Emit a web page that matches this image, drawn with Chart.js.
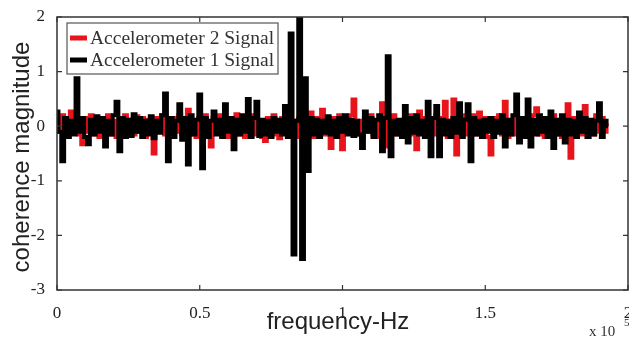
<!DOCTYPE html>
<html>
<head>
<meta charset="utf-8">
<script src="https://cdn.jsdelivr.net/npm/chart.js@4/dist/chart.umd.min.js"></script>
<style>
  html, body { margin: 0; padding: 0; background: #fff; }
  #wrap { width: 629px; height: 340px; position: relative; }
</style>
</head>
<body>
<div id="wrap"><canvas id="c" width="629" height="340"></canvas></div>
<script>
// ---- data ----
const freqStep = 0.01; // x 10^5 Hz between samples
const seriesNames = ['Accelerometer 2 Signal', 'Accelerometer 1 Signal'];
const xTickLabels = ['0', '0.5', '1', '1.5', '2'];
const yTickLabels = ['-3', '-2', '-1', '0', '1', '2'];

const accel1 = [
  0.27, -0.1, -0.64, 0.15, -0.2, 0.1, -0.15, 0.88, -0.1, 0.15,
  -0.2, -0.33, 0.12, -0.15, 0.18, -0.1, 0.15, -0.37, 0.1, -0.15,
  0.2, 0.45, -0.46, 0.15, -0.2, 0.12, -0.18, 0.22, -0.1, 0.15,
  -0.2, 0.1, -0.15, 0.18, -0.22, 0.1, -0.12, 0.2, 0.6, -0.64,
  0.15, -0.2, 0.1, 0.4, -0.25, 0.15, -0.7, 0.2, -0.15, 0.12,
  0.58, -0.77, 0.15, -0.2, 0.1, 0.27, -0.15, 0.12, -0.2, 0.4,
  -0.1, 0.15, -0.42, 0.12, -0.15, 0.2, -0.1, 0.5, -0.2, 0.15,
  0.45, -0.18, 0.12, -0.15, 0.1, -0.2, 0.15, -0.1, 0.12, -0.15,
  0.37, -0.2, 1.7, -2.35, 0.1, 2.3, -2.43, 0.88, -0.82, 0.15,
  -0.15, 0.12, -0.2, 0.1, -0.12, 0.18, -0.15, 0.1, -0.2, 0.15,
  -0.1, 0.2, -0.15, 0.12, -0.18, 0.1, -0.15, -0.4, 0.27, -0.1,
  0.15, -0.2, 0.12, 0.2, -0.46, 0.15, 1.28, -0.55, 0.1, -0.15,
  0.12, -0.2, 0.37, -0.3, 0.15, -0.12, 0.2, -0.15, 0.1, -0.2,
  0.45, -0.55, 0.15, 0.37, -0.55, 0.12, -0.15, 0.1, -0.2, 0.15,
  -0.12, 0.42, -0.2, 0.12, 0.4, -0.64, 0.15, -0.15, 0.1, -0.2,
  0.12, -0.1, 0.15, -0.2, 0.1, -0.12, 0.2, -0.37, 0.12, -0.15,
  0.2, 0.58, -0.3, 0.15, -0.2, 0.49, -0.37, 0.12, -0.15, 0.2,
  -0.1, 0.15, -0.2, 0.27, -0.4, 0.12, -0.15, 0.2, -0.3, 0.12,
  -0.15, 0.1, -0.2, 0.25, -0.1, 0.15, -0.2, 0.12, -0.15, 0.1,
  0.42, -0.2, 0.1, 0.0
];

const accel2 = [
  0.15, -0.1, 0.2, -0.15, 0.1, 0.27, -0.1, 0.1, -0.15, -0.33,
  0.15, -0.1, 0.2, -0.15, 0.1, -0.2, 0.15, -0.1, 0.2, -0.15,
  0.1, -0.2, 0.15, -0.1, 0.2, -0.18, 0.12, -0.15, 0.18, -0.1,
  0.15, -0.2, 0.12, 0.1, -0.5, 0.15, -0.1, 0.2, -0.15, 0.1,
  -0.2, 0.15, -0.1, 0.2, -0.15, 0.1, 0.3, -0.15, 0.1, -0.2,
  0.15, -0.1, 0.2, -0.15, -0.37, 0.15, -0.1, 0.2, -0.15, 0.1,
  -0.2, 0.15, -0.1, 0.22, -0.15, 0.1, -0.2, 0.15, -0.1, 0.2,
  -0.15, 0.1, -0.2, -0.27, 0.15, -0.1, 0.2, -0.15, -0.22, 0.15,
  -0.1, 0.2, -0.15, 0.1, -0.2, 0.15, -0.1, 0.2, -0.15, 0.25,
  -0.2, 0.15, -0.1, 0.3, -0.15, 0.1, -0.4, 0.15, -0.1, 0.2,
  -0.42, 0.15, -0.1, 0.2, 0.49, -0.15, 0.1, -0.2, 0.15, -0.1,
  0.2, -0.15, 0.1, -0.2, 0.42, -0.37, 0.15, -0.1, 0.2, -0.15,
  0.1, -0.2, 0.15, -0.1, 0.2, -0.15, -0.42, 0.27, -0.1, 0.15,
  -0.2, 0.1, -0.15, 0.2, -0.1, 0.15, 0.45, -0.2, 0.1, 0.49,
  -0.52, 0.15, -0.1, 0.2, -0.15, 0.1, 0.2, -0.15, 0.25, -0.1,
  0.15, -0.2, -0.52, 0.15, -0.1, 0.2, -0.15, 0.45, -0.2, 0.1,
  -0.15, 0.2, -0.1, 0.15, -0.2, 0.1, -0.15, 0.2, 0.33, -0.15,
  0.1, -0.2, 0.15, -0.1, 0.2, -0.15, 0.1, -0.2, 0.15, 0.4,
  -0.58, 0.15, -0.1, 0.2, -0.15, 0.37, -0.2, 0.1, -0.15, 0.2,
  -0.1, 0.15, -0.1, 0.05
];

const freqs = accel1.map((_, i) => +(i * freqStep).toFixed(2));

// ---- plugin: frame, inward ticks, legend, titles ----
const decor = {
  id: 'decor',
  afterDatasetsDraw(chart) {
    const { ctx, chartArea: a, scales } = chart;
    const xs = scales.x, ys = scales.y;
    ctx.save();
    // frame
    ctx.strokeStyle = '#333';
    ctx.lineWidth = 1.5;
    ctx.strokeRect(a.left, a.top, a.right - a.left, a.bottom - a.top);
    // inward ticks
    ctx.lineWidth = 1.2;
    ctx.beginPath();
    xTickLabels.forEach(t => {
      const px = xs.getPixelForValue(parseFloat(t));
      ctx.moveTo(px, a.bottom); ctx.lineTo(px, a.bottom - 5);
      ctx.moveTo(px, a.top); ctx.lineTo(px, a.top + 5);
    });
    yTickLabels.forEach(t => {
      const py = ys.getPixelForValue(parseFloat(t));
      ctx.moveTo(a.left, py); ctx.lineTo(a.left + 5, py);
      ctx.moveTo(a.right, py); ctx.lineTo(a.right - 5, py);
    });
    ctx.stroke();

    // legend
    const lx = 67, ly = 23, lw = 211, lh = 51;
    ctx.fillStyle = '#fff';
    ctx.fillRect(lx, ly, lw, lh);
    ctx.strokeStyle = '#555';
    ctx.lineWidth = 1.2;
    ctx.strokeRect(lx, ly, lw, lh);
    const ds = chart.data.datasets;
    [0, 1].forEach((k, row) => {
      const y = ly + 15 + row * 22;
      ctx.strokeStyle = ds[k].borderColor;
      ctx.lineWidth = 5;
      ctx.beginPath();
      ctx.moveTo(lx + 3, y); ctx.lineTo(lx + 20, y);
      ctx.stroke();
      ctx.fillStyle = '#333';
      ctx.font = '19.5px "Liberation Serif", serif';
      ctx.textBaseline = 'middle';
      ctx.textAlign = 'left';
      ctx.fillText(ds[k].label, lx + 23, y + 1);
    });

    // axis titles
    ctx.fillStyle = '#222';
    ctx.font = '24px "Liberation Sans", Arial, sans-serif';
    ctx.textAlign = 'center';
    ctx.textBaseline = 'middle';
    ctx.fillText('frequency-Hz', 338, 322);
    ctx.save();
    ctx.translate(22, 157);
    ctx.rotate(-Math.PI / 2);
    ctx.fillText('coherence magnitude', 0, 0);
    ctx.restore();

    // exponent
    ctx.font = '15px "Liberation Serif", serif';
    ctx.textAlign = 'left';
    ctx.fillStyle = '#333';
    ctx.fillText('x 10', 589, 332);
    ctx.font = '11px "Liberation Serif", serif';
    ctx.fillText('5', 624, 323);
    ctx.restore();
  }
};

new Chart(document.getElementById('c'), {
  type: 'line',
  data: {
    labels: freqs,
    datasets: [
      {
        label: seriesNames[0],
        data: accel2,
        borderColor: '#e8141c',
        borderWidth: 4,
        pointRadius: 0,
        stepped: 'middle',
        borderJoinStyle: 'miter',
        order: 1
      },
      {
        label: seriesNames[1],
        data: accel1,
        borderColor: '#000000',
        borderWidth: 4,
        pointRadius: 0,
        stepped: 'middle',
        borderJoinStyle: 'miter',
        order: 0
      }
    ]
  },
  options: {
    responsive: false,
    animation: false,
    events: [],
    layout: { padding: { top: 17, right: 1, left: 0, bottom: 0 } },
    plugins: { legend: { display: false }, tooltip: { enabled: false } },
    scales: {
      x: {
        type: 'linear',
        min: 0, max: 2,
        grid: { display: false },
        border: { display: false },
        ticks: {
          stepSize: 0.5,
          padding: 5,
          maxRotation: 0,
          autoSkip: false,
          color: '#222',
          font: { family: '"Liberation Serif", serif', size: 17 },
          callback: (v) => xTickLabels[Math.round(v * 2)] ?? ''
        },
        afterFit(s) { s.height = 50; s.paddingLeft = 0; s.paddingRight = 0; }
      },
      y: {
        min: -3, max: 2,
        grid: { display: false },
        border: { display: false },
        ticks: {
          stepSize: 1,
          padding: 4,
          color: '#222',
          font: { family: '"Liberation Serif", serif', size: 17 },
          callback: (v) => yTickLabels[Math.round(v) + 3] ?? ''
        },
        afterFit(s) { s.width = 57; s.paddingTop = 0; s.paddingBottom = 0; }
      }
    }
  },
  plugins: [decor]
});
</script>
</body>
</html>
